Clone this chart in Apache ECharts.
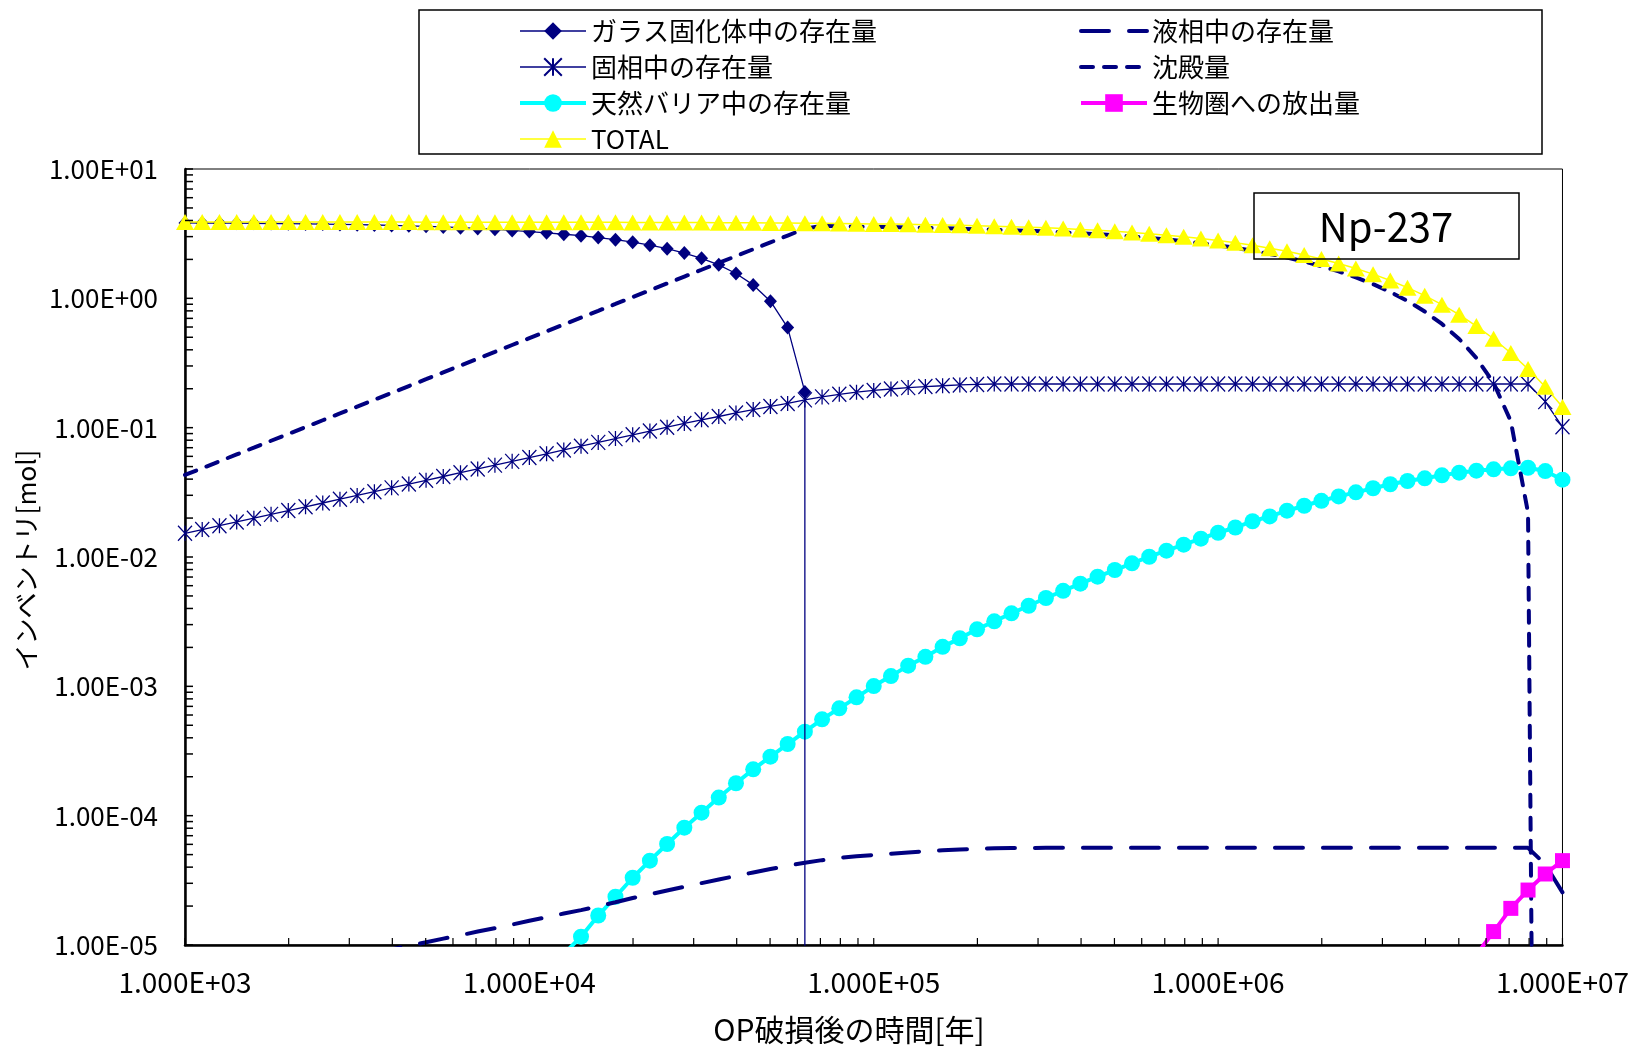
<!DOCTYPE html>
<html><head><meta charset="utf-8">
<script src="https://cdn.jsdelivr.net/npm/echarts@6/dist/echarts.min.js"></script>
<style>html,body{margin:0;padding:0;background:#fff}#c{width:1632px;height:1047px}</style>
</head><body><div id="c"></div>
<script>
// ---------------- DATA ----------------
// time after overpack failure [year]
const times = [1000, 1122, 1259, 1413, 1585, 1778, 1995, 2239, 2512, 2818,
  3162, 3548, 3981, 4467, 5012, 5623, 6310, 7079, 7943, 8913,
  10000, 11220, 12589, 14125, 15849, 17783, 19953, 22387, 25119, 28184,
  31623, 35481, 39811, 44668, 50119, 56234, 63096, 70795, 79433, 89125,
  100000, 112202, 125893, 141254, 158489, 177828, 199526, 223872, 251189, 281838,
  316228, 354813, 398107, 446684, 501187, 562341, 630957, 707946, 794328, 891251,
  1000000, 1122018, 1258925, 1412538, 1584893, 1778279, 1995262, 2238721, 2511886, 2818383,
  3162278, 3548134, 3981072, 4466836, 5011872, 5623413, 6309573, 7079458, 7943282, 8912509,
  10000000];

// ガラス固化体中の存在量 (first 37 times), then fully dissolved (~0)
const glass = [3.83, 3.825, 3.818, 3.81, 3.80, 3.79, 3.777, 3.763, 3.748, 3.73,
  3.71, 3.69, 3.665, 3.637, 3.605, 3.565, 3.52, 3.47, 3.415, 3.35,
  3.28, 3.21, 3.13, 3.05, 2.95, 2.84, 2.72, 2.575, 2.42, 2.24,
  2.04, 1.815, 1.555, 1.27, 0.95, 0.594, 0.189];
const glassAfterDissolution = 1e-12;

// 液相中の存在量
const liquid = [4.33e-6, 4.61e-6, 4.91e-6, 5.23e-6, 5.58e-6, 5.94e-6, 6.33e-6, 6.74e-6, 7.18e-6, 7.65e-6,
  8.15e-6, 8.68e-6, 9.25e-6, 9.85e-6, 1.05e-5, 1.12e-5, 1.19e-5, 1.27e-5, 1.35e-5, 1.44e-5,
  1.54e-5, 1.64e-5, 1.75e-5, 1.86e-5, 1.99e-5, 2.14e-5, 2.31e-5, 2.47e-5, 2.64e-5, 2.82e-5,
  3.01e-5, 3.21e-5, 3.42e-5, 3.64e-5, 3.87e-5, 4.10e-5, 4.33e-5, 4.53e-5, 4.72e-5, 4.85e-5,
  4.96e-5, 5.08e-5, 5.20e-5, 5.31e-5, 5.40e-5, 5.48e-5, 5.55e-5, 5.59e-5, 5.62e-5, 5.63e-5,
  5.64e-5, 5.64e-5, 5.64e-5, 5.64e-5, 5.64e-5, 5.64e-5, 5.64e-5, 5.64e-5, 5.64e-5, 5.64e-5,
  5.64e-5, 5.64e-5, 5.64e-5, 5.64e-5, 5.64e-5, 5.64e-5, 5.64e-5, 5.64e-5, 5.64e-5, 5.64e-5,
  5.64e-5, 5.64e-5, 5.64e-5, 5.64e-5, 5.64e-5, 5.64e-5, 5.64e-5, 5.64e-5, 5.64e-5, 4.2e-5,
  2.55e-5];

// 固相中の存在量
const solid = [0.01524, 0.01631, 0.01745, 0.01866, 0.01996, 0.02136, 0.02285, 0.02444, 0.02615, 0.02797,
  0.02992, 0.03201, 0.03424, 0.03663, 0.03918, 0.04192, 0.04484, 0.04797, 0.05131, 0.05489,
  0.05875, 0.06284, 0.06723, 0.07192, 0.07694, 0.0823, 0.08805, 0.0942, 0.1008, 0.1078,
  0.115, 0.122, 0.130, 0.138, 0.146, 0.154, 0.164, 0.173, 0.181, 0.188,
  0.194, 0.199, 0.204, 0.208, 0.211, 0.214, 0.216, 0.2175, 0.2175, 0.2175,
  0.2175, 0.2175, 0.2175, 0.2175, 0.2175, 0.2175, 0.2175, 0.2175, 0.2175, 0.2175,
  0.2175, 0.2175, 0.2175, 0.2175, 0.2175, 0.2175, 0.2175, 0.2175, 0.2175, 0.2175,
  0.2175, 0.2175, 0.2175, 0.2175, 0.2175, 0.2175, 0.2175, 0.2175, 0.2175, 0.159,
  0.1016];

// 沈殿量
const precipitate = [0.0431, 0.0486, 0.0549, 0.0621, 0.0701, 0.0792, 0.0894, 0.101, 0.1141, 0.1288,
  0.1455, 0.1644, 0.1857, 0.2098, 0.2369, 0.2676, 0.3023, 0.3414, 0.3856, 0.4356,
  0.492, 0.5557, 0.6277, 0.709, 0.8008, 0.9046, 1.022, 1.154, 1.304, 1.473,
  1.663, 1.879, 2.122, 2.397, 2.708, 3.059, 3.455, 3.626, 3.608, 3.588,
  3.569, 3.549, 3.527, 3.503, 3.479, 3.453, 3.424, 3.393, 3.360, 3.324,
  3.284, 3.238, 3.188, 3.134, 3.073, 3.006, 2.932, 2.852, 2.764, 2.669,
  2.566, 2.455, 2.334, 2.205, 2.068, 1.924, 1.772, 1.614, 1.452, 1.287,
  1.120, 0.954, 0.791, 0.634, 0.485, 0.346, 0.222, 0.112, 0.022, 1e-18,
  1e-18];

// 天然バリア中の存在量 (from times[22])
const naturalBarrierStart = 22;
const naturalBarrier = [8.5e-6, 1.16e-5, 1.69e-5, 2.36e-5, 3.31e-5, 4.49e-5, 6.04e-5, 8.07e-5, 1.055e-4, 1.38e-4,
  1.78e-4, 2.28e-4, 2.86e-4, 3.58e-4, 4.46e-4, 5.56e-4, 6.76e-4, 8.22e-4, 1.005e-3, 1.20e-3,
  1.445e-3, 1.69e-3, 2.02e-3, 2.35e-3, 2.76e-3, 3.18e-3, 3.67e-3, 4.20e-3, 4.82e-3, 5.48e-3,
  6.22e-3, 7.05e-3, 7.93e-3, 8.93e-3, 1.005e-2, 1.12e-2, 1.245e-2, 1.385e-2, 1.54e-2, 1.69e-2,
  1.89e-2, 2.06e-2, 2.28e-2, 2.49e-2, 2.72e-2, 2.94e-2, 3.16e-2, 3.40e-2, 3.65e-2, 3.87e-2,
  4.06e-2, 4.28e-2, 4.49e-2, 4.65e-2, 4.76e-2, 4.85e-2, 4.90e-2, 4.62e-2, 3.96e-2];

// 生物圏への放出量 (from times[75])
const biosphereStart = 75;
const biosphere = [8.4e-6, 1.27e-5, 1.92e-5, 2.66e-5, 3.54e-5, 4.49e-5];

// TOTAL
const total = [3.89, 3.89, 3.89, 3.889, 3.889, 3.888, 3.888, 3.887, 3.887, 3.886,
  3.886, 3.8855, 3.885, 3.884, 3.8835, 3.883, 3.882, 3.881, 3.880, 3.879,
  3.877, 3.876, 3.874, 3.872, 3.870, 3.867, 3.864, 3.861, 3.858, 3.854,
  3.850, 3.845, 3.839, 3.833, 3.826, 3.819, 3.810, 3.800, 3.790, 3.777,
  3.764, 3.749, 3.732, 3.713, 3.692, 3.669, 3.643, 3.614, 3.581, 3.546,
  3.506, 3.461, 3.412, 3.358, 3.298, 3.232, 3.160, 3.081, 2.994, 2.900,
  2.799, 2.689, 2.570, 2.443, 2.308, 2.166, 2.017, 1.861, 1.701, 1.538,
  1.374, 1.210, 1.049, 0.894, 0.747, 0.610, 0.487, 0.378, 0.284, 0.207,
  0.1445];

const xTickLabels = ['1.000E+03', '1.000E+04', '1.000E+05', '1.000E+06', '1.000E+07'];
const yTickLabels = ['1.00E-05', '1.00E-04', '1.00E-03', '1.00E-02', '1.00E-01', '1.00E+00', '1.00E+01'];
const xMin = 1e3, xMax = 1e7, yMin = 1e-5, yMax = 10;
const tickMultipliers = [1, 2, 3, 4, 5, 6, 7, 8, 9];

// ---------------- BUILD ----------------
const FONT = '"Noto Sans CJK JP", "Noto Sans", sans-serif';
const NAVY = '#000080', CYAN = '#00FFFF', MAGENTA = '#FF00FF', YELLOW = '#FFFF00';
const LIQUID_DASH = [28, 20];
const PRECIP_DASH = [12, 11];
const pairs = (vals, start) => vals.map((v, i) => [times[start + i], v]);

const glassData = pairs(glass, 0);
glassData.push([times[glass.length - 1], glassAfterDissolution]);

function logTicks(lo, hi) {
  const out = [];
  for (let e = Math.round(Math.log10(lo)); e < Math.round(Math.log10(hi)); e++)
    for (const m of tickMultipliers) out.push(m * Math.pow(10, e));
  out.push(hi);
  return out;
}
const xTicks = logTicks(xMin, xMax).map(v => [v, yMin]);
const yTicks = logTicks(yMin, yMax).map(v => [xMin, v]);

const asterisk = 'path://M0,0L10,10M10,0L0,10M5,0L5,10';
const legendCommon = {orient: 'vertical', top: 18, itemWidth: 66, itemHeight: 22, itemGap: 10, padding: 0,
  selectedMode: false, textStyle: {fontSize: 26, color: '#000', fontFamily: FONT}};

const chart = echarts.init(document.getElementById('c'), null, {renderer: 'canvas'});
chart.setOption({
  animation: false,
  backgroundColor: '#fff',
  textStyle: {fontFamily: FONT},
  grid: {left: 185, right: 68, top: 169, bottom: 102, show: true, borderColor: '#000', borderWidth: 1, backgroundColor: 'transparent'},
  xAxis: {
    type: 'log', logBase: 10, min: xMin, max: xMax,
    axisLine: {lineStyle: {color: '#000', width: 2.5}},
    axisTick: {show: false}, splitLine: {show: false}, minorTick: {show: false},
    axisLabel: {color: '#000', fontSize: 28, fontFamily: FONT, margin: 23,
      formatter: v => xTickLabels[Math.round(Math.log10(v)) - 3]}
  },
  yAxis: {
    type: 'log', logBase: 10, min: yMin, max: yMax,
    axisLine: {lineStyle: {color: '#000', width: 2.5}},
    axisTick: {show: false}, splitLine: {show: false}, minorTick: {show: false},
    axisLabel: {color: '#000', fontSize: 26, fontFamily: FONT, margin: 27,
      formatter: v => yTickLabels[Math.round(Math.log10(v)) + 5]}
  },
  legend: [
    Object.assign({left: 518, data: [
      {name: 'ガラス固化体中の存在量', lineStyle: {color: NAVY, width: 1.3}},
      {name: '固相中の存在量', lineStyle: {color: NAVY, width: 1.3}},
      {name: '天然バリア中の存在量', lineStyle: {color: CYAN, width: 4}},
      {name: 'TOTAL', lineStyle: {color: YELLOW, width: 1.5}}]}, legendCommon),
    Object.assign({left: 1079, data: [
      {name: '液相中の存在量', itemStyle: {opacity: 0}, lineStyle: {color: NAVY, width: 4, type: LIQUID_DASH, cap: 'round'}},
      {name: '沈殿量', itemStyle: {opacity: 0}, lineStyle: {color: NAVY, width: 4, type: PRECIP_DASH, cap: 'round'}},
      {name: '生物圏への放出量', lineStyle: {color: MAGENTA, width: 4}}]}, legendCommon)
  ],
  graphic: [
    {type: 'rect', shape: {x: 419, y: 10, width: 1123, height: 144}, style: {fill: 'none', stroke: '#000', lineWidth: 1.5}, z: 10},
    {type: 'rect', shape: {x: 1254, y: 193, width: 265, height: 66}, style: {fill: 'none', stroke: '#000', lineWidth: 1.5}, z: 10},
    {type: 'text', x: 1386, y: 227, z: 10, style: {text: 'Np-237', fontSize: 40, fontFamily: FONT, fill: '#000', align: 'center', verticalAlign: 'middle'}},
    {type: 'text', x: 849, y: 1030, z: 10, style: {text: 'OP破損後の時間[年]', fontSize: 30, fontFamily: FONT, fill: '#000', align: 'center', verticalAlign: 'middle'}},
    {type: 'text', x: 26, y: 560, rotation: Math.PI / 2, z: 10, style: {text: 'インベントリ[mol]', fontSize: 26, fontFamily: FONT, fill: '#000', align: 'center', verticalAlign: 'middle'}}
  ],
  series: [
    {name: '天然バリア中の存在量', type: 'line', data: pairs(naturalBarrier, naturalBarrierStart),
     symbol: 'circle', symbolSize: 16, showAllSymbol: true,
     lineStyle: {color: CYAN, width: 4}, itemStyle: {color: CYAN}, z: 2},
    {name: 'ガラス固化体中の存在量', type: 'line', data: glassData,
     symbol: 'diamond', symbolSize: [13, 14], showAllSymbol: true,
     lineStyle: {color: NAVY, width: 1.3}, itemStyle: {color: NAVY}, z: 3},
    {name: '液相中の存在量', type: 'line', data: pairs(liquid, 0), symbol: 'none',
     lineStyle: {color: NAVY, width: 4, type: LIQUID_DASH, cap: 'round'}, itemStyle: {color: NAVY}, z: 3},
    {name: '固相中の存在量', type: 'line', data: pairs(solid, 0),
     symbol: asterisk, symbolSize: [14, 15], showAllSymbol: true, clip: false,
     lineStyle: {color: NAVY, width: 1.3}, itemStyle: {color: NAVY, borderColor: NAVY, borderWidth: 1.3}, z: 3},
    {name: '沈殿量', type: 'line', data: pairs(precipitate, 0), symbol: 'none',
     lineStyle: {color: NAVY, width: 4, type: PRECIP_DASH, cap: 'round'}, itemStyle: {color: NAVY}, z: 3},
    {name: '生物圏への放出量', type: 'line', data: pairs(biosphere, biosphereStart),
     symbol: 'rect', symbolSize: 15, showAllSymbol: true,
     lineStyle: {color: MAGENTA, width: 4}, itemStyle: {color: MAGENTA}, z: 4},
    {name: 'TOTAL', type: 'line', data: pairs(total, 0),
     symbol: 'triangle', symbolSize: [18, 16], showAllSymbol: true, clip: false,
     lineStyle: {color: YELLOW, width: 1.5}, itemStyle: {color: YELLOW}, z: 5},
    {type: 'custom', data: xTicks, silent: true, clip: false, z: 6, encode: {x: 0, y: 1},
     renderItem: (params, api) => {
       const p = api.coord([api.value(0), api.value(1)]);
       return {type: 'line', shape: {x1: p[0], y1: p[1], x2: p[0], y2: p[1] - 7}, style: {stroke: '#000', lineWidth: 1.2}};
     }},
    {type: 'custom', data: yTicks, silent: true, clip: false, z: 6, encode: {x: 0, y: 1},
     renderItem: (params, api) => {
       const p = api.coord([api.value(0), api.value(1)]);
       return {type: 'line', shape: {x1: p[0], y1: p[1], x2: p[0] + 8, y2: p[1]}, style: {stroke: '#000', lineWidth: 1.5}};
     }}
  ]
});
</script>
</body></html>
